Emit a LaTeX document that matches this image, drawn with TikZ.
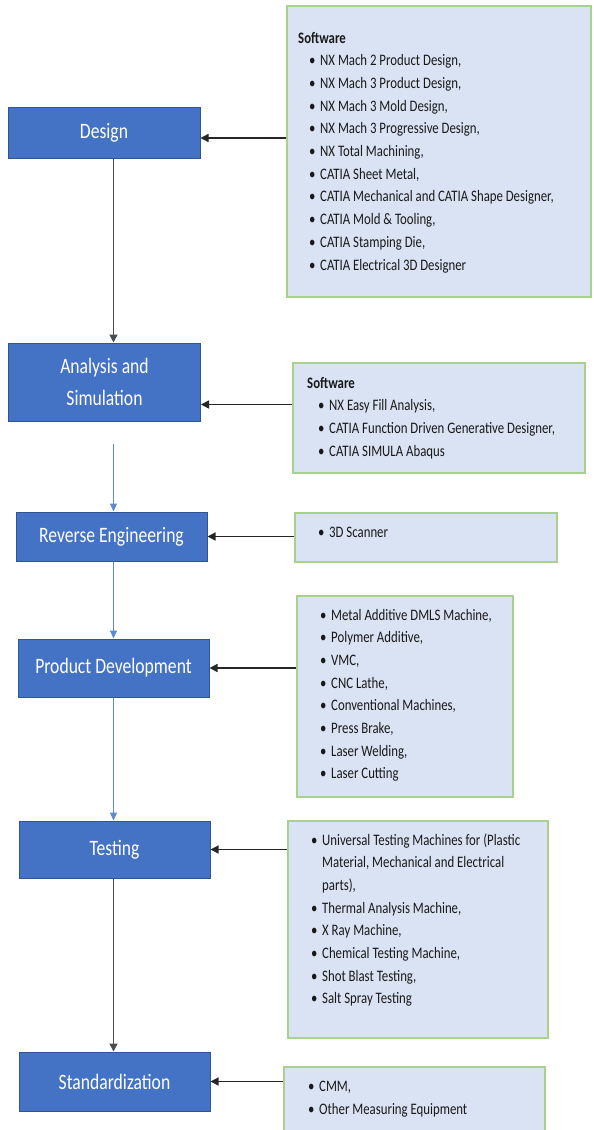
\documentclass[tikz,border=0pt]{standalone}
\usepackage{fontspec}
\setmainfont{Carlito}[FakeStretch=0.8]
\usepackage{xcolor}
\usepackage{tikz}
\usetikzlibrary{arrows.meta,positioning}
\definecolor{stagefill}{HTML}{4472C4}
\definecolor{stageedge}{HTML}{2F5597}
\definecolor{notefill}{HTML}{DAE3F3}
\definecolor{noteedge}{HTML}{A9D18E}
\definecolor{linkblue}{HTML}{5B8BD0}
\definecolor{linkgray}{HTML}{262626}
\newlength{\bulin}\setlength{\bulin}{11pt}
\newlength{\txtin}\setlength{\txtin}{22pt}
\newcommand{\itm}[1]{\hangindent=\txtin\hangafter=1\noindent\makebox[\txtin][l]{\hspace*{\bulin}\textbullet}#1\par}
\newcommand{\head}[1]{\textbf{#1}\par}

\begin{document}
\begin{tikzpicture}[
  x=1pt,
  y=-1pt,
  stage/.style={draw=stageedge, fill=stagefill, line width=1pt, text=white, inner sep=0pt, minimum width=191pt, align=center, font=\fontsize{22}{32}\selectfont},
  note/.style={draw=noteedge, fill=notefill, line width=1.4pt, inner sep=0pt},
  items/.style={anchor=base west, inner sep=0pt, text width=280pt, align=flush left, text=black!90, font=\fontsize{16}{22.7}\selectfont},
  feed/.style={draw=linkgray, line width=1.4pt, -{Triangle[length=8pt,width=8pt]}},
  mainflow/.style={draw=black!70, line width=1.4pt, -{Triangle[length=8pt,width=8pt]}},
  subflow/.style={draw=linkblue, line width=1pt, -{Triangle[length=8pt,width=7pt]}}
]
\useasboundingbox (0,0) rectangle (594,1130);

\node[stage, minimum width=192pt, minimum height=51pt] (design) at (104,132.5) {Design};
\node[stage, minimum width=192pt, minimum height=78pt] (analysis) at (104.5,382) {Analysis and\\Simulation};
\node[stage, minimum height=49pt] (reverse) at (111.5,536.5) {Reverse Engineering};
\node[stage, minimum height=58pt] (product) at (113.5,668) {Product Development};
\node[stage, minimum height=57pt] (testing) at (114.5,849.5) {Testing};
\node[stage, minimum height=59pt] (standard) at (114.5,1081.5) {Standardization};

\node[note, minimum width=304pt, minimum height=291pt] (sw1) at (439,151.5) {};
\node[note, minimum width=292pt, minimum height=110pt] (sw2) at (438.8,418) {};
\node[note, minimum width=262pt, minimum height=49pt] (sw3) at (426,537.5) {};
\node[note, minimum width=216pt, minimum height=201pt] (sw4) at (405,696.5) {};
\node[note, minimum width=260pt, minimum height=217pt] (sw5) at (418,929.5) {};
\node[note, minimum width=261pt, minimum height=72pt] (sw6) at (414.5,1103) {};

\node[items] (sw1list) at (298,43) {\head{Software}
  \itm{NX Mach 2 Product Design,}
  \itm{NX Mach 3 Product Design,}
  \itm{NX Mach 3 Mold Design,}
  \itm{NX Mach 3 Progressive Design,}
  \itm{NX Total Machining,}
  \itm{CATIA Sheet Metal,}
  \itm{CATIA Mechanical and CATIA Shape Designer,}
  \itm{CATIA Mold \& Tooling,}
  \itm{CATIA Stamping Die,}
  \itm{CATIA Electrical 3D Designer}};
\node[items] (sw2list) at (307,388) {\head{Software}
  \itm{NX Easy Fill Analysis,}
  \itm{CATIA Function Driven Generative Designer,}
  \itm{CATIA SIMULA Abaqus}};
\node[items] (sw3list) at (307,537) {\itm{3D Scanner}};
\node[items] (sw4list) at (309,620) {\itm{Metal Additive DMLS Machine,}
  \itm{Polymer Additive,}
  \itm{VMC,}
  \itm{CNC Lathe,}
  \itm{Conventional Machines,}
  \itm{Press Brake,}
  \itm{Laser Welding,}
  \itm{Laser Cutting}};
\node[items] (sw5list) at (300,845) {\itm{Universal Testing Machines for (Plastic\newline Material, Mechanical and Electrical\newline parts),}
  \itm{Thermal Analysis Machine,}
  \itm{X Ray Machine,}
  \itm{Chemical Testing Machine,}
  \itm{Shot Blast Testing,}
  \itm{Salt Spray Testing}};
\node[items] (sw6list) at (297,1091.5) {\itm{CMM,}
  \itm{Other Measuring Equipment}};

\coordinate (spine) at (113.5,0);
\draw[mainflow] (design.south -| spine) -- (analysis.north -| spine);
\draw[subflow, shorten <=22pt] (analysis.south -| spine) -- (reverse.north -| spine);
\draw[subflow] (reverse.south -| spine) -- (product.north -| spine);
\draw[subflow] (product.south -| spine) -- (testing.north -| spine);
\draw[mainflow] (testing.south -| spine) -- (standard.north -| spine);

\draw[feed] ([yshift=-5.5pt]sw1.west |- design.east) -- ([yshift=-5.5pt]design.east);
\draw[feed] ([yshift=-22.5pt]sw2.west |- analysis.east) -- ([yshift=-22.5pt]analysis.east);
\draw[feed] (sw3.west |- reverse.east) -- (reverse.east);
\draw[feed] (sw4.west |- product.east) -- (product.east);
\draw[feed] (sw5.west |- testing.east) -- (testing.east);
\draw[feed] (sw6.west |- standard.east) -- (standard.east);
\end{tikzpicture}
\end{document}
